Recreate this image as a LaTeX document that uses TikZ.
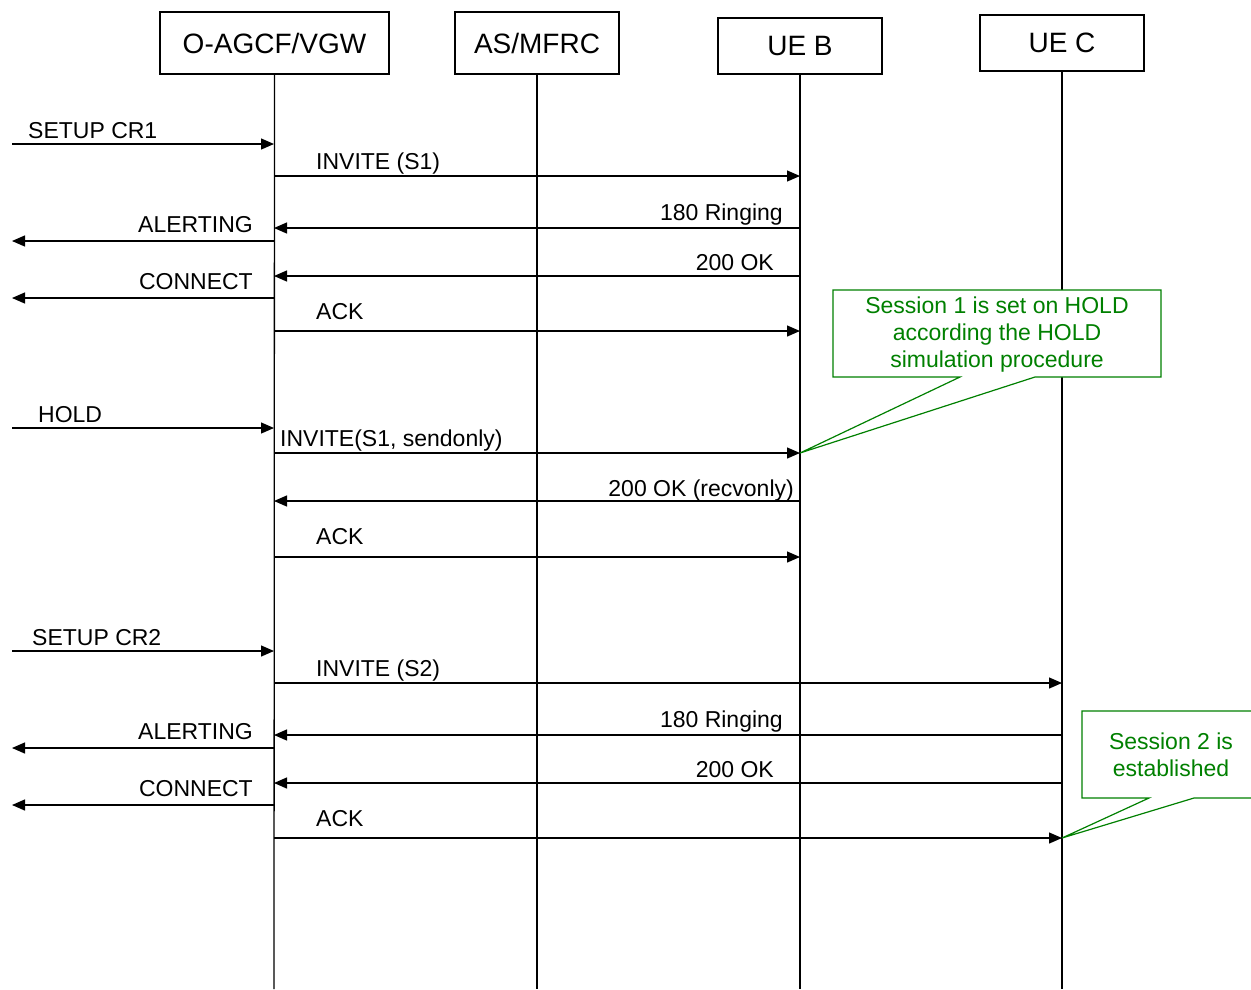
\documentclass[tikz,border=0pt]{standalone}
\usepackage{fontspec}
\setmainfont{Liberation Sans}
\usetikzlibrary{arrows.meta}
\definecolor{callgreen}{RGB}{0,128,0}
\begin{document}
\begin{tikzpicture}[x=1pt,y=-1pt,
  ent/.style={draw,line width=1.3pt,font=\fontsize{28}{32}\selectfont,inner sep=0pt},
  life/.style={line width=1.3pt},
  msg/.style={line width=1.3pt,-{Triangle[length=13pt,width=11pt]}},
  lbl/.style={font=\fontsize{23}{27}\selectfont,inner sep=0pt},
  call/.style={draw=callgreen,line width=1.2pt,fill=white},
  calltext/.style={text=callgreen,font=\fontsize{23}{27}\selectfont,align=center,inner sep=0pt}]
\useasboundingbox (0,0) rectangle (1251,989);
\clip (0,0) rectangle (1251,989);
% entities
\node[ent,minimum width=229pt,minimum height=62pt] (A) at (274.5,43) {O-AGCF/VGW};
\node[ent,minimum width=164pt,minimum height=62pt] (M) at (537,43) {AS/MFRC};
\node[ent,minimum width=164pt,minimum height=56pt] (B) at (800,46) {UE B};
\node[ent,minimum width=164pt,minimum height=56pt] (C) at (1062,43) {UE C};
\coordinate (Aend) at (274,989);
\coordinate (Mend) at (537,989);
\coordinate (Bend) at (800,989);
\coordinate (Cend) at (1062,989);
\draw[life] (A.south) -- (Aend);
\draw[life] (M.south) -- (Mend);
\draw[life] (B.south) -- (Bend);
\draw[life] (C.south) -- (Cend);
% message coordinates
\foreach \n/\y in {1/144,2/176,3/228,4/241,5/276,6/298,7/331,8/428,9/453,10/501,11/557,12/651,13/683,14/735,15/748,16/783,17/805,18/838}{
  \coordinate (o\n) at (12,\y);
  \coordinate (a\n) at (274,\y);
  \coordinate (b\n) at (800,\y);
  \coordinate (c\n) at (1062,\y);
}
\draw[msg] (o1) -- (a1);
\node[lbl,anchor=base west] (t1) at (28,138) {SETUP CR1};
\draw[msg] (a2) -- (b2);
\node[lbl,anchor=base west] (t2) at (316,169) {INVITE (S1)};
\draw[msg] (b3) -- (a3);
\node[lbl,anchor=base east] (t3) at (783,220) {180 Ringing};
\draw[msg] (a4) -- (o4);
\node[lbl,anchor=base east] (t4) at (253,232) {ALERTING};
\draw[msg] (b5) -- (a5);
\node[lbl,anchor=base east] (t5) at (774,270) {200 OK};
\draw[msg] (a6) -- (o6);
\node[lbl,anchor=base east] (t6) at (253,289) {CONNECT};
\draw[msg] (a7) -- (b7);
\node[lbl,anchor=base west] (t7) at (316,319) {ACK};
\draw[msg] (o8) -- (a8);
\node[lbl,anchor=base west] (t8) at (38,422) {HOLD};
\draw[msg] (a9) -- (b9);
\node[lbl,anchor=base west] (t9) at (280,446) {INVITE(S1, sendonly)};
\draw[msg] (b10) -- (a10);
\node[lbl,anchor=base east] (t10) at (794,496) {200 OK (recvonly)};
\draw[msg] (a11) -- (b11);
\node[lbl,anchor=base west] (t11) at (316,544) {ACK};
\draw[msg] (o12) -- (a12);
\node[lbl,anchor=base west] (t12) at (32,645) {SETUP CR2};
\draw[msg] (a13) -- (c13);
\node[lbl,anchor=base west] (t13) at (316,676) {INVITE (S2)};
\draw[msg] (c14) -- (a14);
\node[lbl,anchor=base east] (t14) at (783,727) {180 Ringing};
\draw[msg] (a15) -- (o15);
\node[lbl,anchor=base east] (t15) at (253,739) {ALERTING};
\draw[msg] (c16) -- (a16);
\node[lbl,anchor=base east] (t16) at (774,777) {200 OK};
\draw[msg] (a17) -- (o17);
\node[lbl,anchor=base east] (t17) at (253,796) {CONNECT};
\draw[msg] (a18) -- (c18);
\node[lbl,anchor=base west] (t18) at (316,826) {ACK};
% callouts
\draw[call] (833,290) -- (1161,290) -- (1161,377) -- (1035,377) -- (b9) -- (960,377) -- (833,377) -- cycle;
\node[calltext] (n1) at (997,335) {Session 1 is set on HOLD\\according the HOLD\\simulation procedure};
\draw[call] (1082,711) -- (1300,711) -- (1300,798) -- (1194,798) -- (c18) -- (1149,798) -- (1082,798) -- cycle;
\node[calltext] (n2) at (1171,755) {Session 2 is\\established};
\end{tikzpicture}
\end{document}
